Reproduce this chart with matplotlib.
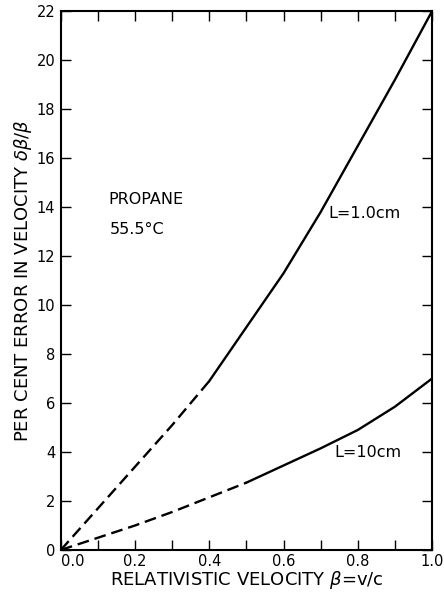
import matplotlib
matplotlib.use("Agg")
import matplotlib.pyplot as plt
import numpy as np

beta = [0.0, 0.1, 0.2, 0.3, 0.4, 0.5, 0.6, 0.7, 0.8, 0.9, 1.0]
err_1cm = [0.0, 1.7, 3.4, 5.1, 6.9, 9.1, 11.3, 13.8, 16.5, 19.2, 22.0]
err_10cm = [0.0, 0.5, 1.0, 1.55, 2.15, 2.75, 3.45, 4.15, 4.9, 5.85, 7.0]
dash_end_1cm = 0.4    # curve is dashed below this beta
dash_end_10cm = 0.5

xticks = [0.0, 0.2, 0.4, 0.6, 0.8, 1.0]
xticklabels = ["0.0", "0.2", "0.4", "0.6", "0.8", "1.0"]
yticks = list(range(0, 23, 2))

fig = plt.figure(figsize=(4.44, 5.92), dpi=100)
ax = fig.add_axes([0.137, 0.071, 0.836, 0.910])

def draw(xs, ys, cut):
    xs = np.array(xs); ys = np.array(ys)
    lo = xs <= cut + 1e-9
    hi = xs >= cut - 1e-9
    ax.plot(xs[lo], ys[lo], color="black", lw=1.7, dashes=(5, 2.5), solid_capstyle="butt")
    ax.plot(xs[hi], ys[hi], color="black", lw=1.7)

draw(beta, err_1cm, dash_end_1cm)
draw(beta, err_10cm, dash_end_10cm)

ax.set_xlim(0, 1.0)
ax.set_ylim(0, 22)
ax.set_xticks(xticks)
ax.set_xticklabels(xticklabels)
ax.set_xticks(np.arange(0, 1.01, 0.1), minor=True)
ax.set_yticks(yticks)
ax.tick_params(which="both", direction="in", top=True, right=True,
               length=7, width=1, labelsize=10.5)
ax.tick_params(axis="x", pad=3)
ax.tick_params(axis="y", pad=4)
ax.get_xticklabels()[0].set_horizontalalignment("left")
for sp in ax.spines.values():
    sp.set_linewidth(1.5)

ax.text(0.127, 14.3, "PROPANE", fontsize=11.5, va="center")
ax.text(0.132, 13.1, "55.5°C", fontsize=11.5, va="center")
ax.text(0.72, 13.75, "L=1.0cm", fontsize=11.5, va="center")
ax.text(0.738, 3.96, "L=10cm", fontsize=11.5, va="center")

ax.set_xlabel("RELATIVISTIC VELOCITY $\\beta$=v/c", fontsize=13, labelpad=0)
ax.set_ylabel("PER CENT ERROR IN VELOCITY $\\delta\\beta/\\beta$", fontsize=13, labelpad=2)

fig.savefig("out.png", dpi=100)
